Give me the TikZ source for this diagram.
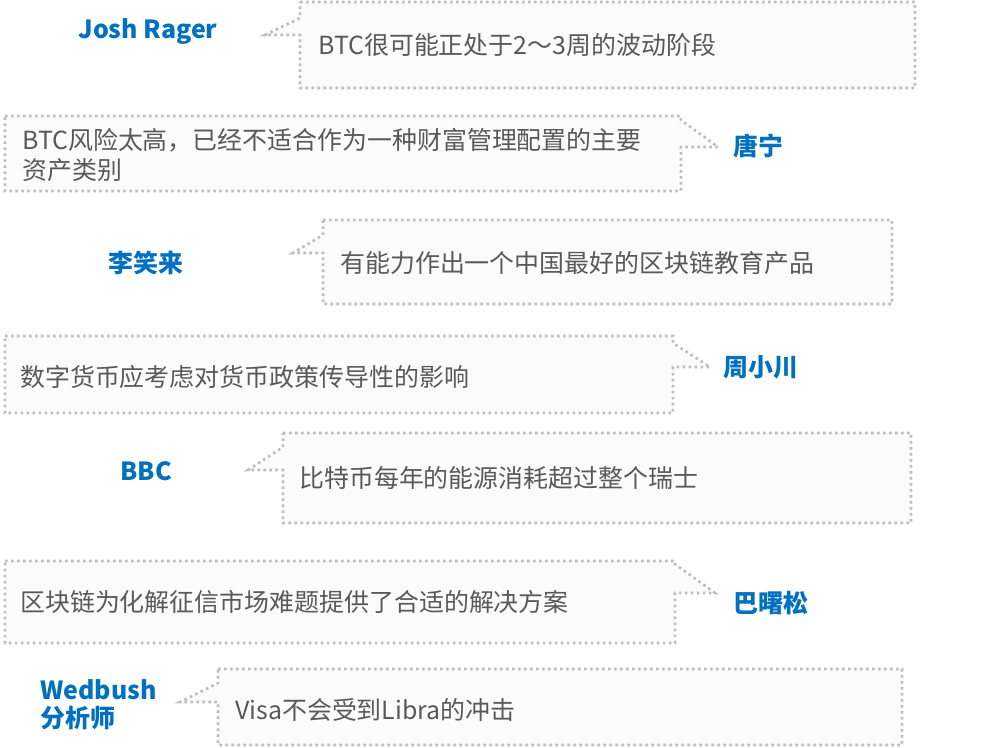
\documentclass[tikz,border=0pt]{standalone}
\usepackage{fontspec}
\setmainfont{Noto Sans CJK SC}
\definecolor{txtgray}{HTML}{595959}
\definecolor{nameblue}{HTML}{0070C0}
\definecolor{bordergray}{HTML}{BDBDBD}
\definecolor{bubblefill}{HTML}{FBFBFB}
\tikzset{
  bubble/.style={draw=bordergray, fill=bubblefill, line width=2pt,
    dash pattern=on 1.9pt off 2.6pt, line join=miter},
  saying/.style={anchor=west, inner sep=0pt, text=txtgray, font=\fontsize{18.7pt}{22.5pt}\selectfont},
  who/.style={inner sep=0pt, text=nameblue, font=\fontsize{18.7pt}{22pt}\selectfont\bfseries},
}
\newcommand{\lbubble}[7]{%
  \draw[bubble] (#1,#3) -- (#2,#3) -- (#2,#4) -- (#1,#4) -- (#1,#7) -- (#6,#7) -- (#1,#5) -- cycle;}
\newcommand{\rbubble}[7]{%
  \draw[bubble] (#1,#3) -- (#2,#3) -- (#2,#5) -- (#6,#7) -- (#2,#7) -- (#2,#4) -- (#1,#4) -- cycle;}
\begin{document}
\begin{tikzpicture}[x=0.75pt,y=-0.75pt]
\useasboundingbox (0,0) rectangle (1006,747);

% 1 Josh Rager
\lbubble{300}{915}{2}{88}{18}{265}{35}
\node[saying] (t1) at (318,45) {BTC很可能正处于2～3周的波动阶段};
\node[who] (n1) at (148,32) {Josh Rager};

% 2 唐宁
\rbubble{5}{681}{116}{191}{120}{718}{147}
\node[saying, align=left] (t2) at (22,155) {BTC风险太高，已经不适合作为一种财富管理配置的主要\\资产类别};
\node[who] (n2) at (758,146) {唐宁};

% 3 李笑来
\lbubble{323}{892}{220}{304}{235}{293}{253}
\node[saying] (t3) at (340,263) {有能力作出一个中国最好的区块链教育产品};
\node[who] (n3) at (146,263) {李笑来};

% 4 周小川
\rbubble{5}{673}{336}{413}{343}{710}{367}
\node[saying] (t4) at (20,377) {数字货币应考虑对货币政策传导性的影响};
\node[who] (n4) at (761,367) {周小川};

% 5 BBC
\lbubble{283}{911}{433}{523}{447}{248}{470}
\node[saying] (t5) at (299,478) {比特币每年的能源消耗超过整个瑞士};
\node[who] (n5) at (146,471) {BBC};

% 6 巴曙松
\rbubble{5}{675}{561}{643}{564}{715}{593}
\node[saying] (t6) at (20,602) {区块链为化解征信市场难题提供了合适的解决方案};
\node[who] (n6) at (771,603) {巴曙松};

% 7 Wedbush
\lbubble{218}{902}{669}{745}{683}{180}{702}
\node[saying] (t7) at (235,710) {Visa不会受到Libra的冲击};
\node[who, anchor=west] (n7a) at (40,690) {Wedbush};
\node[who, anchor=west] (n7b) at (40,718) {分析师};
\end{tikzpicture}
\end{document}
